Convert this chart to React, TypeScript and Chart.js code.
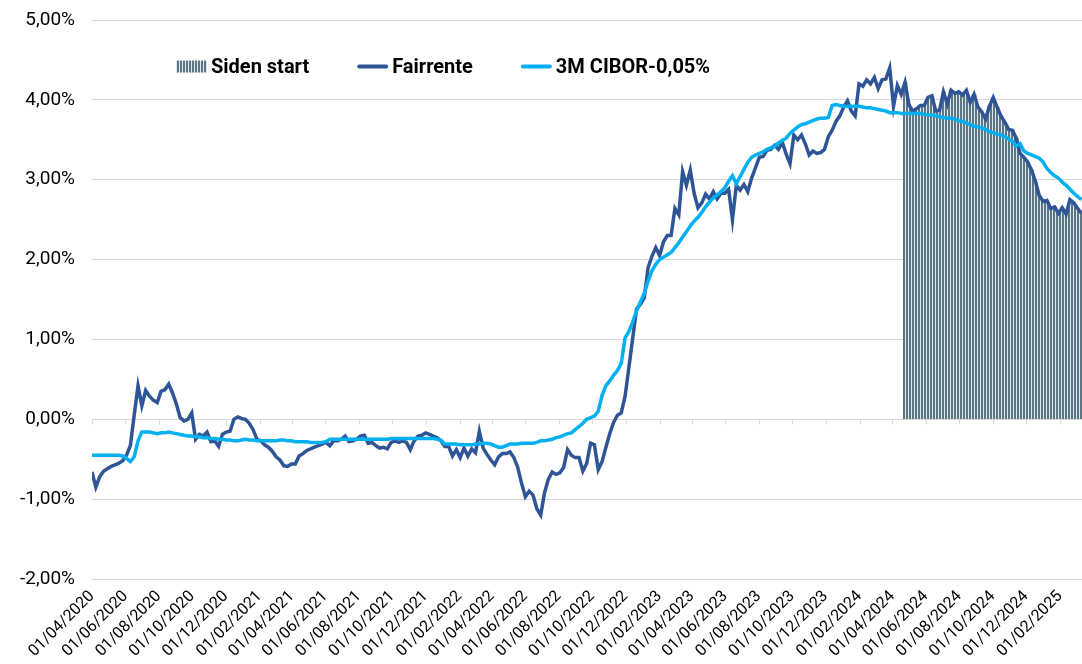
import React, { useEffect, useRef } from "react";
import { Chart, registerables } from "chart.js";

Chart.register(...registerables);

// ---------- data ----------
const START_DATE = "01/04/2020"; // first weekly observation
const END_DATE = "13/03/2025"; // right edge of the x axis
const SIDEN_START_DATE = "24/04/2024"; // start of "Siden start" bars
const STEP_DAYS = 7; // weekly observations

const seriesNames = ["Siden start", "Fairrente", "3M CIBOR-0,05%"];

// Fairrente (%), weekly from START_DATE
const fairrente = [
  -0.66, -0.85, -0.72, -0.65, -0.62, -0.59, -0.57, -0.55, -0.52, -0.45,
  -0.33, 0.05, 0.42, 0.17, 0.36, 0.29, 0.24, 0.21, 0.35, 0.37,
  0.44, 0.33, 0.19, 0.02, -0.02, 0.0, 0.08, -0.25, -0.19, -0.21,
  -0.16, -0.28, -0.27, -0.34, -0.19, -0.16, -0.15, 0.0, 0.03, 0.01,
  0.0, -0.05, -0.13, -0.25, -0.27, -0.32, -0.35, -0.4, -0.47, -0.51,
  -0.58, -0.59, -0.56, -0.56, -0.46, -0.43, -0.39, -0.37, -0.35, -0.33,
  -0.31, -0.29, -0.33, -0.27, -0.27, -0.25, -0.21, -0.28, -0.27, -0.25,
  -0.21, -0.2, -0.3, -0.29, -0.33, -0.36, -0.35, -0.37, -0.29, -0.27,
  -0.29, -0.27, -0.29, -0.38, -0.27, -0.21, -0.2, -0.17, -0.19, -0.21,
  -0.23, -0.27, -0.34, -0.34, -0.46, -0.38, -0.48, -0.36, -0.46, -0.37,
  -0.42, -0.15, -0.36, -0.44, -0.51, -0.57, -0.47, -0.43, -0.43, -0.41,
  -0.48, -0.6, -0.8, -0.97, -0.9, -0.95, -1.12, -1.2, -0.92, -0.75,
  -0.66, -0.69, -0.67, -0.6, -0.38, -0.45, -0.48, -0.48, -0.65, -0.55,
  -0.3, -0.32, -0.63, -0.53, -0.35, -0.18, -0.04, 0.05, 0.08, 0.29,
  0.65, 1.02, 1.38, 1.44, 1.52, 1.9, 2.04, 2.15, 2.05, 2.22,
  2.3, 2.3, 2.64, 2.56, 3.1, 2.93, 3.12, 2.83, 2.65, 2.71,
  2.82, 2.76, 2.85, 2.76, 2.83, 2.83, 2.88, 2.5, 2.93, 2.87,
  2.94, 2.85, 3.02, 3.15, 3.28, 3.29, 3.37, 3.38, 3.43, 3.38,
  3.47, 3.32, 3.2, 3.56, 3.5, 3.56, 3.45, 3.31, 3.36, 3.33,
  3.34, 3.38, 3.54, 3.62, 3.73, 3.8, 3.91, 3.99, 3.86, 3.8,
  4.2, 4.17, 4.25, 4.2, 4.28, 4.14, 4.25, 4.26, 4.4, 3.92,
  4.18, 4.07, 4.22, 3.94, 3.86, 3.89, 3.93, 3.93, 4.03, 4.05,
  3.86, 3.87, 4.1, 3.95, 4.12, 4.08, 4.1, 4.06, 4.12, 3.97,
  4.07, 3.91, 3.85, 3.76, 3.92, 4.03, 3.91, 3.8, 3.72, 3.63,
  3.62, 3.52, 3.33, 3.28, 3.22, 3.12, 2.98, 2.8, 2.73, 2.74,
  2.64, 2.66, 2.58, 2.65, 2.57, 2.75, 2.71, 2.64, 2.58,
];

// 3M CIBOR - 0,05 (%), weekly from START_DATE
const cibor = [
  -0.45, -0.45, -0.45, -0.45, -0.45, -0.45, -0.45, -0.45, -0.46, -0.49,
  -0.53, -0.47, -0.27, -0.16, -0.16, -0.16, -0.17, -0.18, -0.17, -0.17,
  -0.16, -0.17, -0.18, -0.19, -0.2, -0.21, -0.21, -0.22, -0.22, -0.23,
  -0.23, -0.24, -0.24, -0.25, -0.25, -0.26, -0.26, -0.27, -0.27, -0.26,
  -0.25, -0.26, -0.26, -0.27, -0.27, -0.27, -0.27, -0.27, -0.27, -0.26,
  -0.26, -0.27, -0.27, -0.28, -0.28, -0.28, -0.28, -0.29, -0.29, -0.29,
  -0.29, -0.28, -0.25, -0.25, -0.25, -0.25, -0.25, -0.25, -0.25, -0.25,
  -0.25, -0.25, -0.25, -0.25, -0.25, -0.25, -0.25, -0.25, -0.24, -0.24,
  -0.24, -0.24, -0.24, -0.24, -0.24, -0.24, -0.24, -0.24, -0.24, -0.24,
  -0.25, -0.26, -0.31, -0.31, -0.31, -0.31, -0.32, -0.32, -0.32, -0.32,
  -0.31, -0.31, -0.3, -0.3, -0.31, -0.33, -0.35, -0.35, -0.33, -0.31,
  -0.31, -0.31, -0.3, -0.3, -0.3, -0.3, -0.29, -0.27, -0.27, -0.26,
  -0.25, -0.23, -0.22, -0.2, -0.18, -0.17, -0.13, -0.09, -0.05, 0.0,
  0.02, 0.04, 0.1, 0.3, 0.42, 0.48, 0.55, 0.61, 0.7, 1.02,
  1.1, 1.22, 1.36, 1.47, 1.58, 1.73, 1.86, 1.94, 2.0, 2.03,
  2.06, 2.09, 2.15, 2.21, 2.28, 2.35, 2.42, 2.48, 2.53, 2.59,
  2.66, 2.72, 2.77, 2.81, 2.85, 2.9, 2.98, 3.05, 2.95, 3.04,
  3.13, 3.22, 3.28, 3.31, 3.33, 3.35, 3.38, 3.4, 3.42, 3.46,
  3.49, 3.52, 3.58, 3.62, 3.66, 3.69, 3.7, 3.72, 3.74, 3.76,
  3.77, 3.77, 3.78, 3.93, 3.94, 3.93, 3.92, 3.92, 3.92, 3.92,
  3.92, 3.91, 3.9, 3.9, 3.89, 3.88, 3.87, 3.86, 3.84, 3.84,
  3.84, 3.83, 3.83, 3.83, 3.83, 3.83, 3.83, 3.82, 3.81, 3.81,
  3.8, 3.79, 3.78, 3.77, 3.77, 3.76, 3.74, 3.73, 3.71, 3.69,
  3.67, 3.66, 3.65, 3.63, 3.6, 3.59, 3.57, 3.56, 3.54, 3.51,
  3.48, 3.42, 3.45, 3.36, 3.33, 3.31, 3.29, 3.27, 3.22, 3.14,
  3.09, 3.05, 3.02, 2.97, 2.93, 2.88, 2.83, 2.79, 2.75,
];

const xTickLabels = [
  "01/04/2020", "01/06/2020", "01/08/2020", "01/10/2020", "01/12/2020",
  "01/02/2021", "01/04/2021", "01/06/2021", "01/08/2021", "01/10/2021", "01/12/2021",
  "01/02/2022", "01/04/2022", "01/06/2022", "01/08/2022", "01/10/2022", "01/12/2022",
  "01/02/2023", "01/04/2023", "01/06/2023", "01/08/2023", "01/10/2023", "01/12/2023",
  "01/02/2024", "01/04/2024", "01/06/2024", "01/08/2024", "01/10/2024", "01/12/2024",
  "01/02/2025",
];

const yMin = -2;
const yMax = 5;
const yStep = 1;

// ---------- styles ----------
const COLOR_FAIR = "#2f5597";
const COLOR_CIBOR = "#00b0f0";
const COLOR_BAR_DARK = "#5c7784";
const COLOR_BAR_LIGHT = "#dfe6e9";
const GRID = "#d9d9d9";
const FONT = "Roboto";

const DAY_MS = 86400000;
function parseDMY(s: string): number {
  const [d, m, y] = s.split("/").map(Number);
  return Date.UTC(y, m - 1, d);
}
const ORIGIN = parseDMY(START_DATE);
const dayOf = (s: string) => Math.round((parseDMY(s) - ORIGIN) / DAY_MS);

function makeStripePattern(ctx: CanvasRenderingContext2D): CanvasPattern | string {
  const c = document.createElement("canvas");
  c.width = 3;
  c.height = 4;
  const g = c.getContext("2d");
  if (!g) return COLOR_BAR_DARK;
  g.fillStyle = COLOR_BAR_LIGHT;
  g.fillRect(0, 0, 3, 4);
  g.fillStyle = COLOR_BAR_DARK;
  g.fillRect(0, 0, 2, 4);
  return ctx.createPattern(c, "repeat") || COLOR_BAR_DARK;
}

export default function App() {
  const canvasRef = useRef<HTMLCanvasElement | null>(null);

  useEffect(() => {
    const canvas = canvasRef.current;
    if (!canvas) return;
    const ctx = canvas.getContext("2d");
    if (!ctx) return;
    const stripes = makeStripePattern(ctx);

    const sidenStartDay = dayOf(SIDEN_START_DATE);
    const fairPts = fairrente.map((v, i) => ({ x: i * STEP_DAYS, y: v }));
    const ciborPts = cibor.map((v, i) => ({ x: i * STEP_DAYS, y: v }));
    const barPts = fairPts.filter((p) => p.x >= sidenStartDay);
    const tickDays = xTickLabels.map(dayOf);

    const decor = {
      id: "decor",
      beforeDatasetsDraw(chart: any) {
        const { ctx: c, scales } = chart;
        const xs = scales.x;
        const y0 = Math.round(scales.y.getPixelForValue(0)) + 0.5;
        c.save();
        c.strokeStyle = GRID;
        c.lineWidth = 1;
        tickDays.forEach((d) => {
          const px = Math.round(xs.getPixelForValue(d)) + 0.5;
          c.beginPath();
          c.moveTo(px, y0);
          c.lineTo(px, y0 + 5);
          c.stroke();
        });
        c.restore();
      },
      afterDraw(chart: any) {
        const c: CanvasRenderingContext2D = chart.ctx;
        const area = chart.chartArea;
        let x = area.left + 84;
        const baseY = area.top + 53;
        const midY = area.top + 46.5;
        const swW = 31;
        c.save();
        c.font = `bold 20px ${FONT}`;
        c.textBaseline = "alphabetic";
        c.fillStyle = "#000";
        seriesNames.forEach((name, i) => {
          if (i === 0) {
            c.fillStyle = stripes as any;
            c.fillRect(x, midY - 6, swW, 12);
          } else {
            c.strokeStyle = i === 1 ? COLOR_FAIR : COLOR_CIBOR;
            c.lineWidth = 4;
            c.lineCap = "round";
            c.beginPath();
            c.moveTo(x + 2, midY);
            c.lineTo(x + swW - 2, midY);
            c.stroke();
          }
          c.fillStyle = "#000";
          const tx = x + swW + 4;
          c.fillText(name, tx, baseY);
          x = tx + c.measureText(name).width + 48;
        });
        c.restore();
      },
    };

    const chart = new Chart(ctx, {
      type: "line",
      data: {
        datasets: [
          {
            type: "line",
            label: seriesNames[2],
            data: ciborPts,
            borderColor: COLOR_CIBOR,
            backgroundColor: COLOR_CIBOR,
            borderWidth: 3.5,
            pointRadius: 0,
            tension: 0,
            order: 0,
          },
          {
            type: "line",
            label: seriesNames[1],
            data: fairPts,
            borderColor: COLOR_FAIR,
            backgroundColor: COLOR_FAIR,
            borderWidth: 3.5,
            pointRadius: 0,
            tension: 0,
            order: 1,
          },
          {
            type: "bar",
            label: seriesNames[0],
            data: barPts,
            backgroundColor: stripes as any,
            borderWidth: 0,
            barPercentage: 1,
            categoryPercentage: 1,
            order: 2,
          } as any,
        ],
      },
      options: {
        animation: false,
        responsive: true,
        maintainAspectRatio: false,
        layout: { padding: { top: 20, left: 0, right: 0, bottom: 0 } },
        plugins: {
          legend: { display: false },
          tooltip: { enabled: false },
        },
        scales: {
          x: {
            type: "linear",
            min: 0,
            max: dayOf(END_DATE),
            offset: false,
            grid: { display: false, drawTicks: false, offset: false },
            border: { display: false },
            afterBuildTicks(scale: any) {
              scale.ticks = tickDays.map((d) => ({ value: d }));
            },
            afterFit(scale: any) {
              scale.height = 85;
              scale.paddingLeft = 0;
              scale.paddingRight = 0;
              scale.paddingTop = 0;
              scale.paddingBottom = 0;
            },
            ticks: {
              autoSkip: false,
              minRotation: 45,
              maxRotation: 45,
              padding: 8,
              color: "#000",
              font: { family: FONT, size: 16 },
              callback: (_v: any, i: number) => xTickLabels[i],
            },
          },
          y: {
            type: "linear",
            min: yMin,
            max: yMax,
            grid: { color: GRID, lineWidth: 1, drawTicks: false },
            border: { display: false },
            afterFit(scale: any) {
              scale.width = 92;
              scale.paddingTop = 0;
              scale.paddingBottom = 0;
              scale.paddingLeft = 0;
              scale.paddingRight = 0;
            },
            ticks: {
              stepSize: yStep,
              padding: 17,
              color: "#000",
              font: { family: FONT, size: 19 },
              callback: (v: any) => Number(v).toFixed(2).replace(".", ",") + "%",
            },
          },
        },
      },
      plugins: [decor],
    });

    return () => chart.destroy();
  }, []);

  return (
    <div
      style={{
        position: "fixed",
        left: 0,
        top: 0,
        width: 1082,
        height: 664,
        background: "#fff",
      }}
    >
      <canvas ref={canvasRef} />
    </div>
  );
}
